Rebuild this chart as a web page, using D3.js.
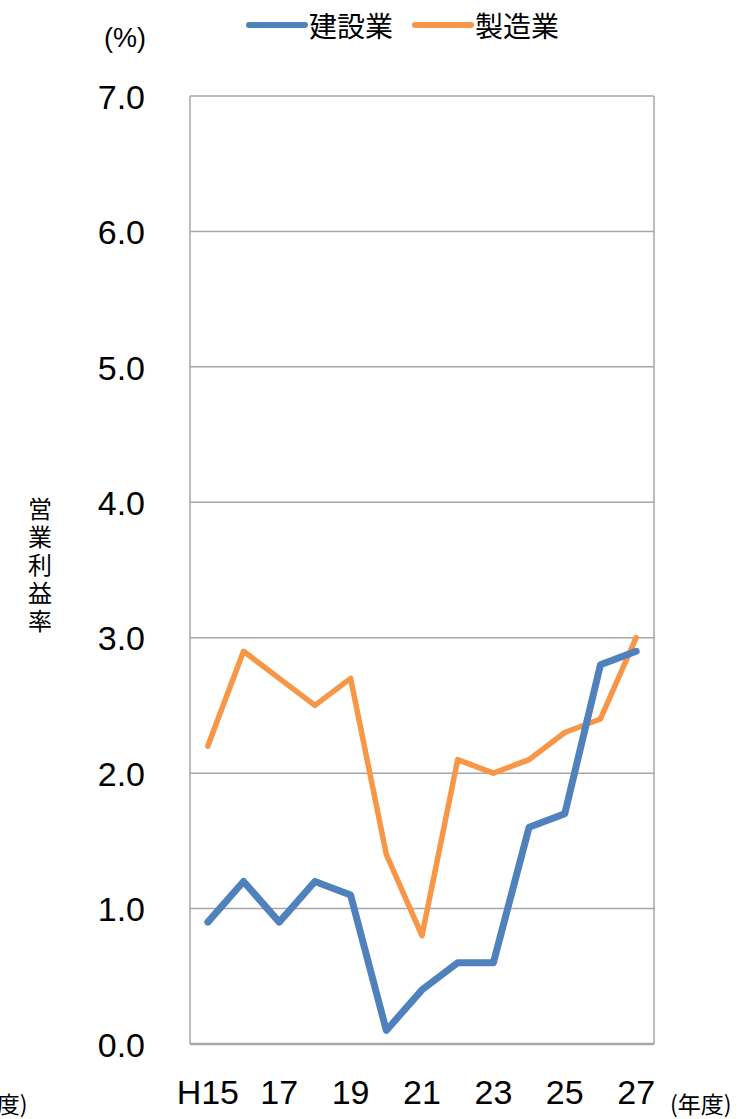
<!DOCTYPE html>
<html>
<head>
<meta charset="utf-8">
<script src="https://cdn.jsdelivr.net/npm/d3@7"></script>
<style>
  html, body { margin: 0; padding: 0; background: #fff; }
  svg { display: block; }
  text { font-family: "Liberation Sans", "Noto Sans CJK JP", sans-serif; fill: #000; }
  .jp { font-family: "Noto Sans CJK JP", sans-serif; }
</style>
</head>
<body>
<script>
// Fiscal years (Heisei 15–27)
const years = ["H15", "16", "17", "18", "19", "20", "21", "22", "23", "24", "25", "26", "27"];
// Operating profit margin (%), construction industry
const construction = [0.9, 1.2, 0.9, 1.2, 1.1, 0.1, 0.4, 0.6, 0.6, 1.6, 1.7, 2.8, 2.9];
// Operating profit margin (%), manufacturing industry
const manufacturing = [2.2, 2.9, 2.7, 2.5, 2.7, 1.4, 0.8, 2.1, 2.0, 2.1, 2.3, 2.4, 3.0];
const yTicks = [0, 1, 2, 3, 4, 5, 6, 7];
const xLabels = ["H15", "17", "19", "21", "23", "25", "27"];
const seriesNames = ["建設業", "製造業"];

const W = 742, H = 1119;
const plot = { left: 190, right: 654, top: 96, bottom: 1044 };

const svg = d3.select("body").append("svg").attr("width", W).attr("height", H);

const x = d3.scaleBand().domain(years).range([plot.left, plot.right]);
const y = d3.scaleLinear().domain([0, 7]).range([plot.bottom, plot.top]);

// gridlines
svg.append("g").selectAll("line").data(yTicks).join("line")
  .attr("x1", plot.left).attr("x2", plot.right)
  .attr("y1", d => y(d)).attr("y2", d => y(d))
  .attr("stroke", "#a6a6a6").attr("stroke-width", 1.5);

// frame sides
svg.append("line").attr("x1", plot.left).attr("x2", plot.left)
  .attr("y1", plot.top).attr("y2", plot.bottom).attr("stroke", "#a6a6a6").attr("stroke-width", 1.5);
svg.append("line").attr("x1", plot.right).attr("x2", plot.right)
  .attr("y1", plot.top).attr("y2", plot.bottom).attr("stroke", "#a6a6a6").attr("stroke-width", 1.5);
svg.append("line").attr("x1", plot.left).attr("x2", plot.right)
  .attr("y1", plot.bottom).attr("y2", plot.bottom).attr("stroke", "#a6a6a6").attr("stroke-width", 2.5);

// y axis labels
const yAxis = d3.axisLeft(y).tickValues(yTicks).tickFormat(d3.format(".1f")).tickSize(0).tickPadding(45);
const yg = svg.append("g").attr("transform", `translate(${plot.left},0)`).call(yAxis);
yg.select(".domain").remove();
yg.selectAll("text").attr("font-size", 34).attr("dy", "0.36em")
  .style("font-family", '"Liberation Sans", sans-serif').attr("fill", "#000");

// x axis labels (every other year)
const xAxis = d3.axisBottom(x).tickValues(xLabels).tickSize(0).tickPadding(36);
const xg = svg.append("g").attr("transform", `translate(0,${plot.bottom})`).call(xAxis);
xg.select(".domain").remove();
xg.selectAll("text").attr("font-size", 34).attr("dy", "0.71em")
  .style("font-family", '"Liberation Sans", sans-serif').attr("fill", "#000");

// lines
const line = d3.line().x((d, i) => x(years[i]) + x.bandwidth() / 2).y(d => y(d));
const colors = ["#4f81bd", "#f79646"];
svg.append("path").datum(manufacturing).attr("d", line)
  .attr("fill", "none").attr("stroke", colors[1]).attr("stroke-width", 5.5)
  .attr("stroke-linecap", "round").attr("stroke-linejoin", "round");
svg.append("path").datum(construction).attr("d", line)
  .attr("fill", "none").attr("stroke", colors[0]).attr("stroke-width", 7)
  .attr("stroke-linecap", "round").attr("stroke-linejoin", "round");

// legend
const legend = [
  { name: seriesNames[0], color: colors[0], x0: 249, x1: 305, tx: 309 },
  { name: seriesNames[1], color: colors[1], x0: 415, x1: 471, tx: 475 }
];
legend.forEach(l => {
  svg.append("line").attr("x1", l.x0).attr("x2", l.x1).attr("y1", 25).attr("y2", 25)
    .attr("stroke", l.color).attr("stroke-width", 6).attr("stroke-linecap", "round");
  svg.append("text").attr("class", "jp").attr("x", l.tx).attr("y", 25)
    .attr("dominant-baseline", "central").attr("font-size", 28).text(l.name);
});

// unit labels
svg.append("text").attr("x", 104).attr("y", 47).attr("font-size", 27)
  .style("font-family", '"Liberation Sans", sans-serif').text("(%)");
svg.append("text").attr("class", "jp").attr("x", 670).attr("y", 1113).attr("font-size", 23)
  .text("(年度)");
svg.append("text").attr("class", "jp").attr("x", -34).attr("y", 1113).attr("font-size", 23)
  .text("(年度)");

// vertical y-axis title
svg.append("text").attr("class", "jp")
  .attr("x", 40).attr("y", 497)
  .style("writing-mode", "vertical-rl")
  .style("letter-spacing", "4px")
  .attr("font-size", 24).text("営業利益率");
</script>
</body>
</html>
